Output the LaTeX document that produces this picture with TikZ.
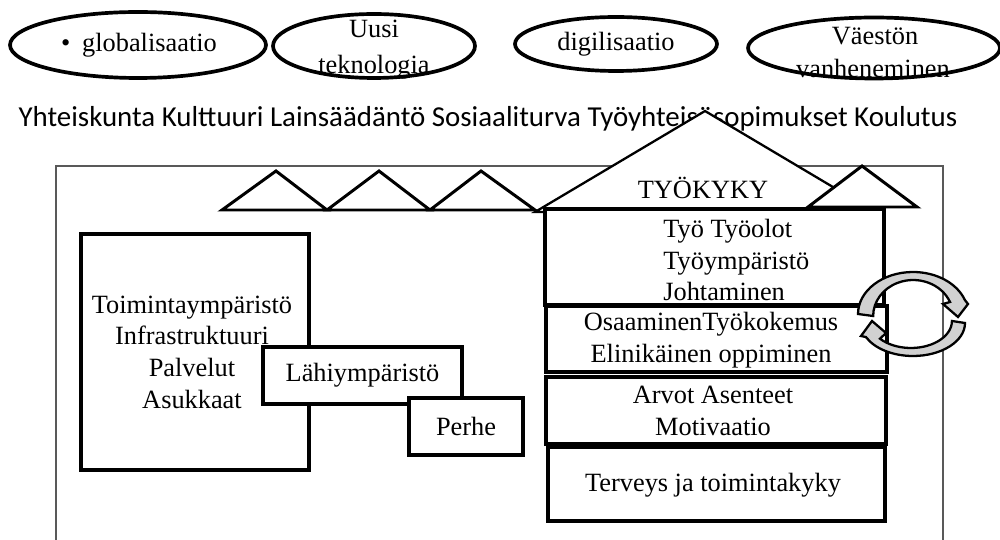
\documentclass[tikz,border=0pt]{standalone}
\usepackage{fontspec}
\setmainfont{Liberation Serif}
\newfontfamily\labelsans{Carlito}
\usetikzlibrary{shapes.geometric}

\begin{document}
\begin{tikzpicture}[x=0.02cm,y=-0.02cm,
  oval/.style={ellipse, draw, line width=2.1pt, inner sep=0pt},
  serif/.style={font=\fontsize{15}{18}\selectfont, inner sep=0pt, align=center},
  box/.style={draw, line width=2pt, fill=white, inner sep=0pt},
  roof/.style={draw, line width=1.7pt, fill=white, line join=miter},
  frame/.style={draw=black!65, line width=0.6pt},
  cyclearrow/.style={draw, line width=1.3pt, fill=black!18, line join=miter}]

\useasboundingbox (0,0) rectangle (1000,540);

% external change factors
\node[oval, minimum width=5.12cm, minimum height=1.32cm] (glob) at (138,45) {};
\node[serif] (globt) at (139,45) {\textbullet\hspace{0.45em}globalisaatio};
\node[oval, minimum width=4.04cm, minimum height=1.28cm] (tek) at (374,46) {};
\node[serif, anchor=base] (tek1) at (374,38) {Uusi};
\node[serif, anchor=base] (tek2) at (374,74) {teknologia};
\node[oval, minimum width=4.04cm, minimum height=1.08cm] (digi) at (616,44) {};
\node[serif] (digit) at (616,44) {digilisaatio};
\node[oval, minimum width=5.04cm, minimum height=1.22cm] (vaesto) at (874,48) {};
\node[serif, anchor=base] (vaesto1) at (875,45) {Väestön};
\node[serif, anchor=base] (vaesto2) at (873,78) {vanheneminen};

% society row
\node[font=\labelsans\fontsize{16.45}{19}\selectfont, inner sep=0pt] (society) at (488,119)
  {Yhteiskunta Kulttuuri Lainsäädäntö Sosiaaliturva Työyhteisösopimukset Koulutus};

% surrounding frame (open at the bottom)
\draw[frame] (56,545) -- (56,166) -- (943,166) -- (943,545);

% roofs
\draw[roof] (222,210) -- (276,171) -- (327,210) -- cycle;
\draw[roof] (327,210) -- (379,171) -- (430,210) -- cycle;
\draw[roof] (430,210) -- (481,171) -- (535,210) -- cycle;
\draw[roof, line width=1.3pt] (535,212) -- (705,111) -- (875,212) -- cycle;
\draw[roof] (808,207) -- (862,166) -- (917,207) -- cycle;
\node[serif] (tyokyky) at (703,188) {TYÖKYKY};

% environment boxes
\node[box, minimum width=4.56cm, minimum height=4.72cm] (toim) at (195,352) {};
\node[serif] (toimt) at (192,352) {Toimintaympäristö\\Infrastruktuuri\\Palvelut\\Asukkaat};
\node[box, minimum width=3.98cm, minimum height=1.14cm, font=\fontsize{15}{18}\selectfont] (lahi) at (362.5,375.5) {Lähiympäristö};
\node[box, minimum width=2.28cm, minimum height=1.14cm, font=\fontsize{15}{18}\selectfont] (perhe) at (466,426.5) {Perhe};

% work ability house floors
\node[box, minimum width=6.78cm, minimum height=1.92cm] (tyo) at (714.5,257) {};
\node[serif, align=left, anchor=west] (tyot) at (663,260) {Työ Työolot\\Työympäristö\\Johtaminen};
\node[box, minimum width=6.82cm, minimum height=1.32cm] (osaa) at (716.5,339) {};
\node[serif] (osaat) at (711,340) {OsaaminenTyökokemus\\Elinikäinen oppiminen};
\node[box, minimum width=6.8cm, minimum height=1.34cm] (arvot) at (716,410.5) {};
\node[serif] (arvott) at (713,411) {Arvot Asenteet\\Motivaatio};
\node[box, minimum width=6.74cm, minimum height=1.48cm] (terv) at (716.5,484) {};
\node[serif] (tervt) at (713,485) {Terveys ja toimintakyky};

% circular arrows
\draw[cyclearrow] (858,314) arc[start angle=180, end angle=340.5, x radius=55, y radius=42]
  -- (968,304) -- (958,317) -- (943,304) -- (950,302)
  arc[start angle=337.1, end angle=180, x radius=40, y radius=36] -- cycle;
\draw[cyclearrow] (965,323) arc[start angle=0, end angle=154.7, x radius=52, y radius=33]
  -- (861,336) -- (872,321) -- (886,333) -- (880,338.7)
  arc[start angle=139, end angle=0, x radius=41, y radius=27] -- cycle;
\end{tikzpicture}
\end{document}
